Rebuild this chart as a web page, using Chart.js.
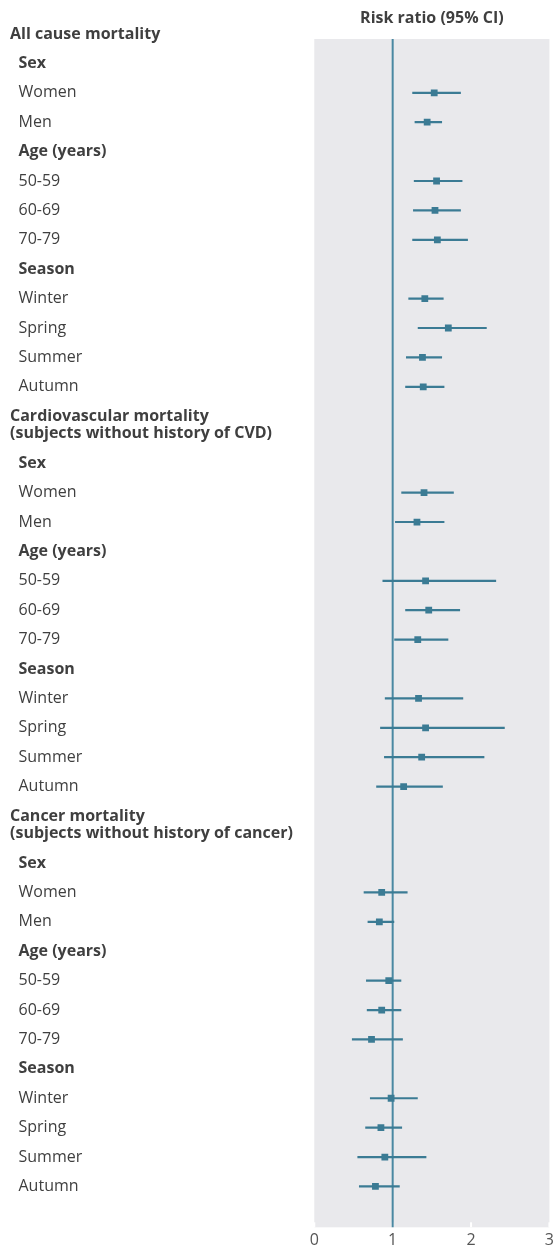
<!DOCTYPE html>
<html>
<head>
<meta charset="utf-8">
<script src="https://cdn.jsdelivr.net/npm/chart.js@4"></script>
<style>
  html, body { margin: 0; padding: 0; background: #fff; }
  canvas { display: block; }
</style>
</head>
<body>
<canvas id="forest-chart" width="558" height="1249"></canvas>
<script>
// ===== FOREST PLOT: RISK RATIOS BY SUBGROUP =====

const sectionTitles = [
    ['All cause mortality'],
    ['Cardiovascular mortality', '(subjects without history of CVD)'],
    ['Cancer mortality', '(subjects without history of cancer)']
];
const groupTitles = ['Sex', 'Age (years)', 'Season'];
const groupItems = [
    ['Women', 'Men'],
    ['50-59', '60-69', '70-79'],
    ['Winter', 'Spring', 'Summer', 'Autumn']
];

// risk ratio + 95% CI, rows in the order listed above
const allCauseRR    = [1.53, 1.44, 1.56, 1.54, 1.57, 1.41, 1.71, 1.38, 1.39];
const allCauseLower = [1.25, 1.28, 1.27, 1.26, 1.25, 1.20, 1.32, 1.17, 1.16];
const allCauseUpper = [1.87, 1.63, 1.89, 1.87, 1.96, 1.65, 2.20, 1.63, 1.66];

const cvdRR    = [1.40, 1.31, 1.42, 1.46, 1.32, 1.33, 1.42, 1.37, 1.14];
const cvdLower = [1.11, 1.03, 0.87, 1.16, 1.02, 0.90, 0.84, 0.89, 0.79];
const cvdUpper = [1.78, 1.66, 2.32, 1.86, 1.71, 1.90, 2.43, 2.17, 1.64];

const cancerRR    = [0.86, 0.83, 0.95, 0.86, 0.73, 0.98, 0.85, 0.90, 0.78];
const cancerLower = [0.63, 0.68, 0.66, 0.67, 0.48, 0.71, 0.65, 0.55, 0.57];
const cancerUpper = [1.19, 1.02, 1.11, 1.11, 1.13, 1.32, 1.12, 1.43, 1.09];

const xTicks = [0, 1, 2, 3];
const referenceValue = 1;
const axisTitle = 'Risk ratio (95% CI)';

const TEAL = '#3b7b94';
const TEXT = '#3f3f3f';
const FONT = '"Open Sans", Lato, sans-serif';

/**
 * Lay out the rows: one unit per row, two-line headings take a bit more
 */
function buildRows() {
    const estimates = [
        [allCauseRR, allCauseLower, allCauseUpper],
        [cvdRR, cvdLower, cvdUpper],
        [cancerRR, cancerLower, cancerUpper]
    ];
    const rows = [];
    let cursor = 0;

    sectionTitles.forEach((title, s) => {
        const extra = (title.length - 1) * 0.6;
        rows.push({ text: title, kind: 'section', y: cursor + extra / 2 });
        cursor += 1 + extra;

        let k = 0;
        groupTitles.forEach((g, gi) => {
            rows.push({ text: [g], kind: 'group', y: cursor });
            cursor += 1;
            groupItems[gi].forEach(item => {
                const [rr, lo, hi] = estimates[s];
                rows.push({ text: [item], kind: 'item', y: cursor, rr: rr[k], lo: lo[k], hi: hi[k] });
                cursor += 1;
                k++;
            });
        });
    });
    return { rows, total: cursor };
}

const layout = buildRows();
const itemRows = layout.rows.filter(r => r.kind === 'item');

const ciDatasets = itemRows.map(r => ({
    type: 'line',
    data: [{ x: r.lo, y: r.y }, { x: r.hi, y: r.y }],
    borderColor: TEAL,
    borderWidth: 2.2,
    pointRadius: 0,
    pointHoverRadius: 0,
    fill: false
}));

const forestDecor = {
    id: 'forestDecor',
    beforeDraw(chart) {
        const { ctx, chartArea: a } = chart;
        ctx.save();
        ctx.fillStyle = '#e9e9ec';
        ctx.fillRect(a.left, a.top, a.right - a.left, a.bottom - a.top);
        ctx.restore();
    },
    beforeDatasetsDraw(chart) {
        const { ctx, chartArea: a, scales: { x } } = chart;
        ctx.save();
        // small white tick marks along the bottom of the panel
        ctx.strokeStyle = '#ffffff';
        ctx.lineWidth = 2;
        xTicks.forEach(t => {
            const px = x.getPixelForValue(t);
            ctx.beginPath();
            ctx.moveTo(px, a.bottom);
            ctx.lineTo(px, a.bottom - 5);
            ctx.stroke();
        });
        // line of no effect
        const rx = x.getPixelForValue(referenceValue);
        ctx.strokeStyle = '#4a88a2';
        ctx.lineWidth = 2;
        ctx.beginPath();
        ctx.moveTo(rx, a.top);
        ctx.lineTo(rx, a.bottom);
        ctx.stroke();
        ctx.restore();
    },
    afterDraw(chart) {
        const { ctx, chartArea: a, scales: { y } } = chart;
        ctx.save();
        ctx.fillStyle = TEXT;
        ctx.textBaseline = 'middle';
        ctx.textAlign = 'left';

        layout.rows.forEach(r => {
            const bold = r.kind !== 'item';
            ctx.font = (bold ? 'bold ' : '') + '16px ' + FONT;
            const left = r.kind === 'section' ? 10 : 18.5;
            const cy = y.getPixelForValue(r.y);
            const n = r.text.length;
            r.text.forEach((line, i) => {
                ctx.fillText(line, left, cy + (i - (n - 1) / 2) * 17.6);
            });
        });

        ctx.font = 'bold 16px ' + FONT;
        ctx.textAlign = 'center';
        ctx.fillText(axisTitle, (a.left + a.right) / 2, 18);
        ctx.restore();
    }
};

const ctx = document.getElementById('forest-chart');

new Chart(ctx, {
    data: {
        datasets: [
            {
                type: 'scatter',
                data: itemRows.map(r => ({ x: r.rr, y: r.y })),
                pointStyle: 'rect',
                pointRadius: 4.8,
                pointHoverRadius: 4.8,
                backgroundColor: TEAL,
                borderWidth: 0
            },
            ...ciDatasets
        ]
    },
    options: {
        responsive: false,
        animation: false,
        events: [],
        layout: { padding: { left: 314.3, right: 5.7, top: 39, bottom: 0 } },
        plugins: {
            legend: { display: false },
            tooltip: { enabled: false }
        },
        scales: {
            x: {
                type: 'linear',
                min: 0,
                max: 3,
                afterBuildTicks: scale => { scale.ticks = xTicks.map(v => ({ value: v })); },
                afterFit: scale => { scale.height = 21.7; },
                ticks: {
                    color: '#555555',
                    padding: 4,
                    font: { family: FONT, size: 16 }
                },
                grid: { display: false, drawTicks: false },
                border: { display: false }
            },
            y: {
                type: 'linear',
                display: false,
                reverse: true,
                min: 0.17,
                max: 40.59
            }
        }
    },
    plugins: [forestDecor]
});
</script>
</body>
</html>
